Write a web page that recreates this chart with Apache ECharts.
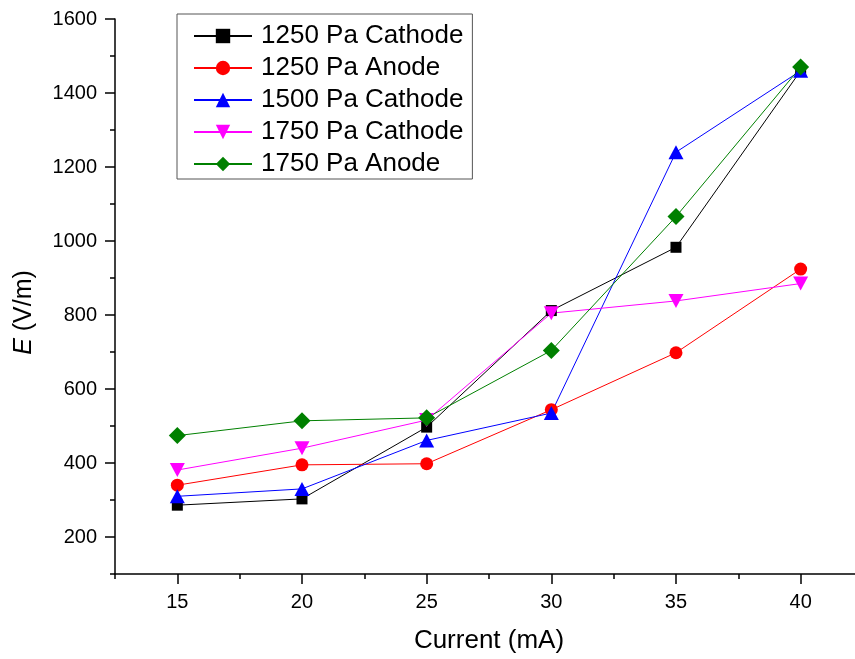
<!DOCTYPE html>
<html><head><meta charset="utf-8">
<script src="https://cdn.jsdelivr.net/npm/echarts@6/dist/echarts.min.js"></script>
<style>html,body{margin:0;padding:0;background:#fff}#c{width:855px;height:659px}</style>
</head><body><div id="c"></div>
<script>
const currents = [15, 20, 25, 30, 35, 40];
const c1250 = [286, 303, 497, 812, 983, 1460];
const a1250 = [340, 395, 398, 544, 698, 924];
const c1500 = [310, 330, 461, 535, 1240, 1460];
const c1750 = [381, 440, 516, 805, 838, 885];
const a1750 = [474, 514, 522, 704, 1066, 1470];
const names = ['1250 Pa Cathode', '1250 Pa Anode', '1500 Pa Cathode', '1750 Pa Cathode', '1750 Pa Anode'];
const xMajor = [15, 20, 25, 30, 35, 40];
const xMinor = [12.5, 17.5, 22.5, 27.5, 32.5, 37.5, 42.5];
const yMajor = [200, 400, 600, 800, 1000, 1200, 1400, 1600];
const yMinor = [100, 300, 500, 700, 900, 1100, 1300, 1500];

const F = 'Liberation Sans, Arial, sans-serif';
const pairs = v => currents.map((x, i) => [x, v[i]]);
const defs = [
  {d: c1250, color: '#000000', symbol: 'rect', size: 11},
  {d: a1250, color: '#ff0000', symbol: 'circle', size: 13},
  {d: c1500, color: '#0000ff', symbol: 'triangle', size: [15, 14]},
  {d: c1750, color: '#ff00ff', symbol: 'triangle', size: [15, 14], rotate: 180},
  {d: a1750, color: '#008000', symbol: 'diamond', size: 17}
];
const series = defs.map((s, i) => ({
  name: names[i], type: 'line', data: pairs(s.d), xAxisIndex: 0, yAxisIndex: 0,
  symbol: s.symbol, symbolSize: s.size, symbolRotate: s.rotate || 0,
  lineStyle: {color: s.color, width: 1}, itemStyle: {color: s.color},
  showAllSymbol: true, animation: false
}));
const xmin = 12.5, xmax = 42.18, ymin = 100, ymax = 1600;
const axisBase = {type: 'value', splitLine: {show: false}};
const chart = echarts.init(document.getElementById('c'));
chart.setOption({
  animation: false,
  grid: {left: 115, right: 0, top: 19, bottom: 85, containLabel: false},
  legend: {
    left: 177, top: 14, orient: 'vertical', itemWidth: 58, itemHeight: 18, itemGap: 6,
    padding: [9, 9, 2, 16], borderColor: '#555', borderWidth: 1,
    textStyle: {fontFamily: F, fontSize: 26, color: '#000', padding: [0, 0, 0, 4]},
    data: names
  },
  xAxis: [
    Object.assign({}, axisBase, {
      min: xmin, max: xmax, position: 'bottom',
      name: 'Current (mA)', nameLocation: 'middle', nameGap: 54,
      nameTextStyle: {fontFamily: F, fontSize: 26, color: '#000', padding: [0, 0, 0, 8]},
      axisLine: {lineStyle: {color: '#000', width: 1.5}},
      axisTick: {length: 10, customValues: xMajor, lineStyle: {color: '#000', width: 1.5}},
      axisLabel: {customValues: xMajor, fontFamily: F, fontSize: 20, color: '#000', margin: 18}
    }),
    Object.assign({}, axisBase, {
      min: xmin, max: xmax, position: 'bottom',
      axisLine: {show: false},
      axisTick: {length: 5, customValues: xMinor, lineStyle: {color: '#000', width: 1.5}},
      axisLabel: {show: false}
    })
  ],
  yAxis: [
    Object.assign({}, axisBase, {
      min: ymin, max: ymax, position: 'left',
      name: '{i|E} (V/m)', nameLocation: 'middle', nameGap: 78,
      nameTextStyle: {fontFamily: F, fontSize: 25, color: '#000', padding: [0, 32, 0, 0],
        rich: {i: {fontFamily: F, fontSize: 25, fontStyle: 'italic', color: '#000'}}},
      axisLine: {lineStyle: {color: '#000', width: 1.5}},
      axisTick: {length: 10, customValues: yMajor, lineStyle: {color: '#000', width: 1.5}},
      axisLabel: {customValues: yMajor, formatter: v => String(v), fontFamily: F, fontSize: 20, color: '#000', margin: 18}
    }),
    Object.assign({}, axisBase, {
      min: ymin, max: ymax, position: 'left',
      axisLine: {show: false},
      axisTick: {length: 5, customValues: yMinor, lineStyle: {color: '#000', width: 1.5}},
      axisLabel: {show: false}
    })
  ],
  series: series
});
</script></body></html>
